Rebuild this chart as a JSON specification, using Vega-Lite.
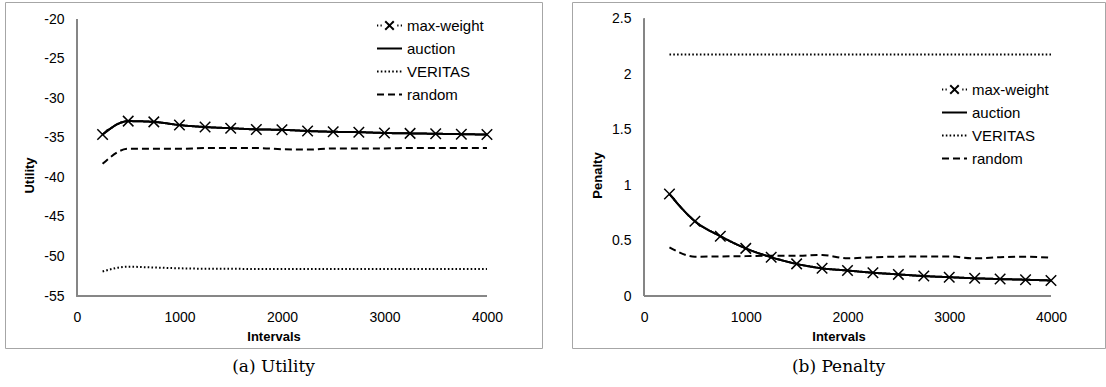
{
  "$schema": "https://vega.github.io/schema/vega-lite/v6.json",
  "padding": {"left": 4, "top": 1, "right": 2, "bottom": 0},
  "background": "white",
  "datasets": {
    "util": [
      {"x": 250, "series": "auction", "v": -34.6}, {"x": 500, "series": "auction", "v": -32.9}, {"x": 750, "series": "auction", "v": -33.0}, {"x": 1000, "series": "auction", "v": -33.4},
      {"x": 1250, "series": "auction", "v": -33.65}, {"x": 1500, "series": "auction", "v": -33.8}, {"x": 1750, "series": "auction", "v": -33.95}, {"x": 2000, "series": "auction", "v": -34.0},
      {"x": 2250, "series": "auction", "v": -34.15}, {"x": 2500, "series": "auction", "v": -34.25}, {"x": 2750, "series": "auction", "v": -34.3}, {"x": 3000, "series": "auction", "v": -34.4},
      {"x": 3250, "series": "auction", "v": -34.45}, {"x": 3500, "series": "auction", "v": -34.5}, {"x": 3750, "series": "auction", "v": -34.55}, {"x": 4000, "series": "auction", "v": -34.6},
      {"x": 250, "series": "max-weight", "v": -34.6}, {"x": 500, "series": "max-weight", "v": -32.9}, {"x": 750, "series": "max-weight", "v": -33.0}, {"x": 1000, "series": "max-weight", "v": -33.4},
      {"x": 1250, "series": "max-weight", "v": -33.65}, {"x": 1500, "series": "max-weight", "v": -33.8}, {"x": 1750, "series": "max-weight", "v": -33.95}, {"x": 2000, "series": "max-weight", "v": -34.0},
      {"x": 2250, "series": "max-weight", "v": -34.15}, {"x": 2500, "series": "max-weight", "v": -34.25}, {"x": 2750, "series": "max-weight", "v": -34.3}, {"x": 3000, "series": "max-weight", "v": -34.4},
      {"x": 3250, "series": "max-weight", "v": -34.45}, {"x": 3500, "series": "max-weight", "v": -34.5}, {"x": 3750, "series": "max-weight", "v": -34.55}, {"x": 4000, "series": "max-weight", "v": -34.6},
      {"x": 250, "series": "random", "v": -38.3}, {"x": 500, "series": "random", "v": -36.4}, {"x": 750, "series": "random", "v": -36.4}, {"x": 1000, "series": "random", "v": -36.4},
      {"x": 1250, "series": "random", "v": -36.3}, {"x": 1500, "series": "random", "v": -36.3}, {"x": 1750, "series": "random", "v": -36.3}, {"x": 2000, "series": "random", "v": -36.45},
      {"x": 2250, "series": "random", "v": -36.5}, {"x": 2500, "series": "random", "v": -36.35}, {"x": 2750, "series": "random", "v": -36.35}, {"x": 3000, "series": "random", "v": -36.35},
      {"x": 3250, "series": "random", "v": -36.3}, {"x": 3500, "series": "random", "v": -36.3}, {"x": 3750, "series": "random", "v": -36.3}, {"x": 4000, "series": "random", "v": -36.3},
      {"x": 250, "series": "VERITAS", "v": -51.9}, {"x": 500, "series": "VERITAS", "v": -51.3}, {"x": 750, "series": "VERITAS", "v": -51.4}, {"x": 1000, "series": "VERITAS", "v": -51.5},
      {"x": 1250, "series": "VERITAS", "v": -51.55}, {"x": 1500, "series": "VERITAS", "v": -51.55}, {"x": 1750, "series": "VERITAS", "v": -51.6}, {"x": 2000, "series": "VERITAS", "v": -51.6},
      {"x": 2250, "series": "VERITAS", "v": -51.6}, {"x": 2500, "series": "VERITAS", "v": -51.6}, {"x": 2750, "series": "VERITAS", "v": -51.6}, {"x": 3000, "series": "VERITAS", "v": -51.6},
      {"x": 3250, "series": "VERITAS", "v": -51.6}, {"x": 3500, "series": "VERITAS", "v": -51.6}, {"x": 3750, "series": "VERITAS", "v": -51.6}, {"x": 4000, "series": "VERITAS", "v": -51.6}
    ],
    "pen": [
      {"x": 250, "series": "auction", "v": 0.92}, {"x": 500, "series": "auction", "v": 0.675}, {"x": 750, "series": "auction", "v": 0.54}, {"x": 1000, "series": "auction", "v": 0.43},
      {"x": 1250, "series": "auction", "v": 0.35}, {"x": 1500, "series": "auction", "v": 0.29}, {"x": 1750, "series": "auction", "v": 0.25}, {"x": 2000, "series": "auction", "v": 0.23},
      {"x": 2250, "series": "auction", "v": 0.21}, {"x": 2500, "series": "auction", "v": 0.195}, {"x": 2750, "series": "auction", "v": 0.18}, {"x": 3000, "series": "auction", "v": 0.17},
      {"x": 3250, "series": "auction", "v": 0.16}, {"x": 3500, "series": "auction", "v": 0.153}, {"x": 3750, "series": "auction", "v": 0.147}, {"x": 4000, "series": "auction", "v": 0.14},
      {"x": 250, "series": "max-weight", "v": 0.92}, {"x": 500, "series": "max-weight", "v": 0.675}, {"x": 750, "series": "max-weight", "v": 0.54}, {"x": 1000, "series": "max-weight", "v": 0.43},
      {"x": 1250, "series": "max-weight", "v": 0.35}, {"x": 1500, "series": "max-weight", "v": 0.29}, {"x": 1750, "series": "max-weight", "v": 0.25}, {"x": 2000, "series": "max-weight", "v": 0.23},
      {"x": 2250, "series": "max-weight", "v": 0.21}, {"x": 2500, "series": "max-weight", "v": 0.195}, {"x": 2750, "series": "max-weight", "v": 0.18}, {"x": 3000, "series": "max-weight", "v": 0.17},
      {"x": 3250, "series": "max-weight", "v": 0.16}, {"x": 3500, "series": "max-weight", "v": 0.153}, {"x": 3750, "series": "max-weight", "v": 0.147}, {"x": 4000, "series": "max-weight", "v": 0.14},
      {"x": 250, "series": "random", "v": 0.44}, {"x": 500, "series": "random", "v": 0.355}, {"x": 750, "series": "random", "v": 0.357}, {"x": 1000, "series": "random", "v": 0.36},
      {"x": 1250, "series": "random", "v": 0.363}, {"x": 1500, "series": "random", "v": 0.363}, {"x": 1750, "series": "random", "v": 0.37}, {"x": 2000, "series": "random", "v": 0.34},
      {"x": 2250, "series": "random", "v": 0.35}, {"x": 2500, "series": "random", "v": 0.355}, {"x": 2750, "series": "random", "v": 0.357}, {"x": 3000, "series": "random", "v": 0.357},
      {"x": 3250, "series": "random", "v": 0.34}, {"x": 3500, "series": "random", "v": 0.35}, {"x": 3750, "series": "random", "v": 0.355}, {"x": 4000, "series": "random", "v": 0.345},
      {"x": 250, "series": "VERITAS", "v": 2.18}, {"x": 500, "series": "VERITAS", "v": 2.18}, {"x": 750, "series": "VERITAS", "v": 2.18}, {"x": 1000, "series": "VERITAS", "v": 2.18},
      {"x": 1250, "series": "VERITAS", "v": 2.18}, {"x": 1500, "series": "VERITAS", "v": 2.18}, {"x": 1750, "series": "VERITAS", "v": 2.18}, {"x": 2000, "series": "VERITAS", "v": 2.18},
      {"x": 2250, "series": "VERITAS", "v": 2.18}, {"x": 2500, "series": "VERITAS", "v": 2.18}, {"x": 2750, "series": "VERITAS", "v": 2.18}, {"x": 3000, "series": "VERITAS", "v": 2.18},
      {"x": 3250, "series": "VERITAS", "v": 2.18}, {"x": 3500, "series": "VERITAS", "v": 2.18}, {"x": 3750, "series": "VERITAS", "v": 2.18}, {"x": 4000, "series": "VERITAS", "v": 2.18}
    ]
  },
  "hconcat": [
    {
      "width": 537,
      "height": 346,
      "title": {"text": "(a) Utility", "orient": "bottom", "anchor": "middle", "font": "DejaVu Serif", "fontSize": 17, "fontWeight": "normal", "color": "#000", "offset": 11},
      "data": {"name": "util"},
      "layer": [
        {
          "mark": {"type": "rule", "color": "#868686", "strokeWidth": 1},
          "encoding": {"x": {"datum": 0, "type": "quantitative"}, "x2": {"datum": 4000}, "y": {"datum": -55, "type": "quantitative"}}
        },
        {
          "mark": {"type": "rule", "color": "#868686", "strokeWidth": 1},
          "encoding": {"x": {"datum": 0, "type": "quantitative"}, "y": {"datum": -55, "type": "quantitative"}, "y2": {"datum": -20}}
        },
        {
          "mark": {"type": "line", "interpolate": "monotone", "color": "black", "strokeWidth": 2},
          "encoding": {
            "x": {"field": "x", "type": "quantitative", "scale": {"domain": [-702, 4537], "nice": false, "zero": false},
                  "axis": {"title": "Intervals", "values": [0, 1000, 2000, 3000, 4000], "offset": -52, "labelPadding": 14, "titlePadding": 6, "labelExpr": "'' + datum.value"}},
            "y": {"field": "v", "type": "quantitative", "scale": {"domain": [-61.57, -17.85], "nice": false, "zero": false},
                  "axis": {"title": "Utility", "values": [-55, -50, -45, -40, -35, -30, -25, -20], "offset": -72, "labelPadding": 13, "titlePadding": 7, "labelExpr": "'' + datum.value"}},
            "strokeDash": {"field": "series", "type": "nominal",
                  "scale": {"domain": ["max-weight", "auction", "VERITAS", "random"], "range": [[1, 0], [1, 0], [1.6, 2.2], [7, 4]]},
                  "legend": {"orient": "none", "legendX": 371, "legendY": 10, "title": null,
                    "encode": {"symbols": {"update": {"shape": {"signal": "datum.value === 'max-weight' ? 'M-1,0L-0.9,0M-0.72,0L-0.62,0M-0.34,-0.34L0.34,0.34M-0.34,0.34L0.34,-0.34M0.62,0L0.72,0M0.9,0L1,0' : 'stroke'"}}}}}}
          }
        },
        {
          "transform": [{"filter": "datum.series === 'max-weight'"}],
          "mark": {"type": "point", "shape": "M-1,-1L1,1M-1,1L1,-1", "filled": false, "color": "black", "size": 110, "strokeWidth": 1.5, "opacity": 1},
          "encoding": {"x": {"field": "x", "type": "quantitative"}, "y": {"field": "v", "type": "quantitative"}}
        }
      ]
    },
    {
      "width": 533,
      "height": 346,
      "title": {"text": "(b) Penalty", "orient": "bottom", "anchor": "middle", "font": "DejaVu Serif", "fontSize": 17, "fontWeight": "normal", "color": "#000", "offset": 11},
      "data": {"name": "pen"},
      "layer": [
        {
          "mark": {"type": "rule", "color": "#868686", "strokeWidth": 1},
          "encoding": {"x": {"datum": 0, "type": "quantitative"}, "x2": {"datum": 4000}, "y": {"datum": 0, "type": "quantitative"}}
        },
        {
          "mark": {"type": "rule", "color": "#868686", "strokeWidth": 1},
          "encoding": {"x": {"datum": 0, "type": "quantitative"}, "y": {"datum": 0, "type": "quantitative"}, "y2": {"datum": 2.5}}
        },
        {
          "mark": {"type": "line", "interpolate": "monotone", "color": "black", "strokeWidth": 2},
          "encoding": {
            "x": {"field": "x", "type": "quantitative", "scale": {"domain": [-708, 4531], "nice": false, "zero": false},
                  "axis": {"title": "Intervals", "values": [0, 1000, 2000, 3000, 4000], "offset": -52, "labelPadding": 14, "titlePadding": 6, "labelExpr": "'' + datum.value"}},
            "y": {"field": "v", "type": "quantitative", "scale": {"domain": [-0.469, 2.653], "nice": false, "zero": false},
                  "axis": {"title": "Penalty", "values": [0, 0.5, 1, 1.5, 2, 2.5], "offset": -72, "labelPadding": 13, "titlePadding": 7, "labelExpr": "'' + datum.value"}},
            "strokeDash": {"field": "series", "type": "nominal",
                  "scale": {"domain": ["max-weight", "auction", "VERITAS", "random"], "range": [[1, 0], [1, 0], [1.6, 2.2], [7, 4]]},
                  "legend": {"orient": "none", "legendX": 369, "legendY": 74, "title": null,
                    "encode": {"symbols": {"update": {"shape": {"signal": "datum.value === 'max-weight' ? 'M-1,0L-0.9,0M-0.72,0L-0.62,0M-0.34,-0.34L0.34,0.34M-0.34,0.34L0.34,-0.34M0.62,0L0.72,0M0.9,0L1,0' : 'stroke'"}}}}}}
          }
        },
        {
          "transform": [{"filter": "datum.series === 'max-weight'"}],
          "mark": {"type": "point", "shape": "M-1,-1L1,1M-1,1L1,-1", "filled": false, "color": "black", "size": 110, "strokeWidth": 1.5, "opacity": 1},
          "encoding": {"x": {"field": "x", "type": "quantitative"}, "y": {"field": "v", "type": "quantitative"}}
        }
      ]
    }
  ],
  "resolve": {"scale": {"strokeDash": "independent"}},
  "spacing": 28,
  "config": {
    "view": {"stroke": "#a6a6a6", "strokeWidth": 1},
    "axis": {"domain": false, "ticks": false, "grid": false, "labelFont": "Liberation Sans", "labelFontSize": 14, "labelColor": "#000",
             "titleFont": "Liberation Sans", "titleFontSize": 13, "titleFontWeight": "bold", "titleColor": "#000"},
    "legend": {"symbolType": "stroke", "symbolSize": 625, "symbolStrokeWidth": 2, "symbolStrokeColor": "black",
               "labelFont": "Liberation Sans", "labelFontSize": 15, "labelColor": "#000", "labelOffset": 4, "rowPadding": 1}
  }
}
